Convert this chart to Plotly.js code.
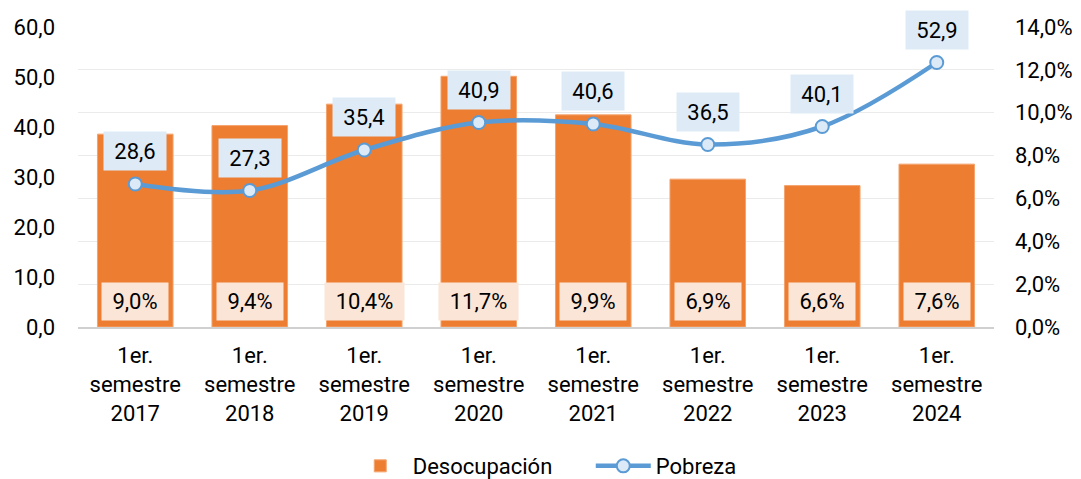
<!DOCTYPE html>
<html>
<head>
<meta charset="utf-8">
<script src="https://cdn.plot.ly/plotly-3.0.1.min.js"></script>
<style>html,body{margin:0;padding:0;background:#fff;}#chart{width:1081px;height:479px;}</style>
</head>
<body>
<div id="chart"></div>
<script>
const categories = ["1er.<br>semestre<br>2017","1er.<br>semestre<br>2018","1er.<br>semestre<br>2019","1er.<br>semestre<br>2020","1er.<br>semestre<br>2021","1er.<br>semestre<br>2022","1er.<br>semestre<br>2023","1er.<br>semestre<br>2024"];
const desocupacion = [9.0, 9.4, 10.4, 11.7, 9.9, 6.9, 6.6, 7.6];
const pobreza = [28.6, 27.3, 35.4, 40.9, 40.6, 36.5, 40.1, 52.9];
const desocupacionLabels = ["9,0%","9,4%","10,4%","11,7%","9,9%","6,9%","6,6%","7,6%"];
const pobrezaLabels = ["28,6","27,3","35,4","40,9","40,6","36,5","40,1","52,9"];

const FONT = "Roboto, 'Noto Sans', sans-serif";

const traces = [
  {
    type: "bar", name: "Desocupación", x: categories, y: desocupacion, yaxis: "y",
    marker: {color: "#ed7d31", line: {color: "#f4a46e", width: 1}},
    width: 0.66, hoverinfo: "skip"
  },
  {
    type: "scatter", mode: "lines+markers", name: "Pobreza", x: categories, y: pobreza, yaxis: "y2",
    line: {color: "#5b9bd5", width: 4.5, shape: "spline", smoothing: 1},
    marker: {symbol: "circle", size: 13, color: "#dce9f6", line: {color: "#5b9bd5", width: 2}},
    hoverinfo: "skip"
  }
];

const annotations = [];
categories.forEach((c, i) => {
  annotations.push({
    x: c, y: pobreza[i], xref: "x", yref: "y2", text: pobrezaLabels[i], showarrow: false,
    yshift: 33, yanchor: "middle", bgcolor: "#deebf7", borderpad: 6, width: 50, height: 26,
    font: {family: FONT, size: 22, color: "#000"}
  });
  annotations.push({
    x: c, y: 0, xref: "x", yref: "y", text: desocupacionLabels[i], showarrow: false,
    yshift: 26, yanchor: "middle", bgcolor: "#fbe5d6", borderpad: 6,
    width: desocupacionLabels[i].length * 13 + 2, height: 25,
    font: {family: FONT, size: 22, color: "#000"}
  });
});

const layout = {
  width: 1081, height: 479,
  margin: {l: 78, r: 87, t: 27, b: 152},
  paper_bgcolor: "#fff", plot_bgcolor: "#fff",
  separators: ", ",
  font: {family: FONT, size: 22, color: "#000"},
  showlegend: true,
  legend: {orientation: "h", x: 0.2945, xanchor: "left", xref: "paper",
           y: 0.027, yanchor: "middle", yref: "container",
           font: {family: FONT, size: 22, color: "#000"}, itemwidth: 55,
           entrywidth: 173, entrywidthmode: "pixels", traceorder: "normal"},
  xaxis: {
    type: "category", showgrid: false, zeroline: false, showline: true, automargin: false,
    linecolor: "#d0d0d0", linewidth: 2, ticks: "", tickfont: {family: FONT, size: 22},
    ticklabelstandoff: 8
  },
  yaxis: {
    side: "right", range: [0, 14], dtick: 2, tickformat: ".1f", ticksuffix: "%", automargin: false,
    showgrid: true, gridcolor: "#ebebeb", gridwidth: 1, zeroline: false, showline: false,
    ticks: "", ticklabelstandoff: 20, tickfont: {family: FONT, size: 22}
  },
  yaxis2: {
    side: "left", overlaying: "y", range: [0, 60], dtick: 10, tickformat: ".1f", automargin: false,
    showgrid: false, zeroline: false, showline: false,
    ticks: "", ticklabelstandoff: 22, tickfont: {family: FONT, size: 22}
  },
  annotations: annotations
};

Plotly.newPlot("chart", traces, layout, {displayModeBar: false, staticPlot: true});
</script>
</body>
</html>
